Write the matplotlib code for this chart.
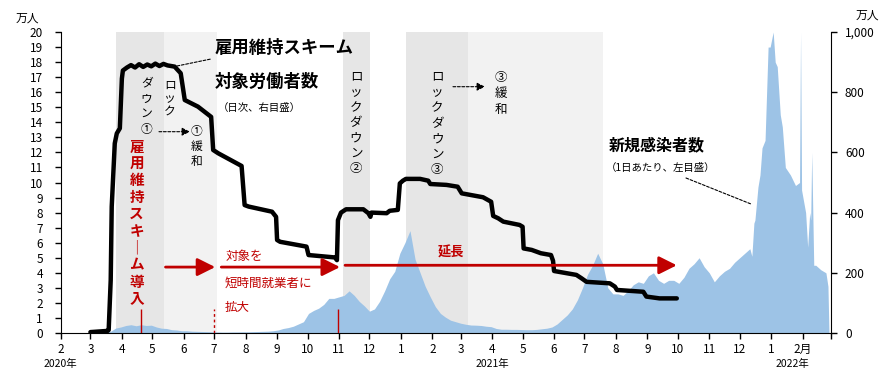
import matplotlib
matplotlib.use("Agg")
import matplotlib.pyplot as plt
from matplotlib.ticker import FuncFormatter, MultipleLocator
import pandas as pd

plt.rcParams['font.family'] = ['Noto Sans CJK JP', 'DejaVu Sans']

W, H = 896, 379
RED = '#c00000'
BLUE = '#9dc3e6'

# new cases per day (万人, left axis), read every 5 days
case_dates = pd.date_range('2020-03-01', periods=146, freq='5D')
case_values = [
    0.0, 0.0, 0.02, 0.05, 0.12, 0.33, 0.4, 0.5, 0.55, 0.48,
    0.55, 0.5, 0.52, 0.4, 0.32, 0.3, 0.22, 0.2, 0.15, 0.15,
    0.12, 0.11, 0.1, 0.09, 0.08, 0.07, 0.06, 0.06, 0.07, 0.07,
    0.08, 0.08, 0.09, 0.1, 0.11, 0.12, 0.15, 0.2, 0.3, 0.36,
    0.45, 0.6, 0.75, 1.3, 1.5, 1.65, 1.9, 2.3, 2.3, 2.4,
    2.5, 2.8, 2.5, 2.1, 1.8, 1.45, 1.6, 2.1, 2.8, 3.6,
    4.1, 5.3, 6.0, 6.8, 4.9, 4.0, 3.1, 2.4, 1.75, 1.3,
    1.05, 0.85, 0.75, 0.65, 0.58, 0.53, 0.52, 0.5, 0.45, 0.42,
    0.3, 0.25, 0.25, 0.24, 0.24, 0.23, 0.22, 0.22, 0.24, 0.28,
    0.32, 0.4, 0.6, 0.9, 1.2, 1.6, 2.2, 3.0, 3.9, 4.5,
    5.3, 4.6, 3.0, 2.6, 2.6, 2.5, 2.8, 3.2, 3.4, 3.3,
    3.8, 4.0, 3.5, 3.3, 3.5, 3.5, 3.3, 3.7, 4.3, 4.6,
    5.0, 4.4, 4.0, 3.4, 3.8, 4.1, 4.3, 4.7, 5.0, 5.3,
    5.6, 7.5, 10.5, 12.8, 19.0, 18.0, 14.5, 11.0, 10.5, 9.8,
    20.0, 8.0, 7.5, 4.5, 4.2, 4.0,
]
# extra readings around the omicron wave
spike_dates = pd.to_datetime([
    '2021-12-13', '2021-12-15', '2021-12-19', '2021-12-23', '2021-12-29',
    '2022-01-03', '2022-01-07', '2022-01-12', '2022-01-29', '2022-01-31',
    '2022-02-06', '2022-02-08', '2022-02-10', '2022-02-12', '2022-02-26',
    '2022-02-27'])
spike_values = [5.1, 7.3, 9.7, 12.3, 19.0,
                20.0, 17.7, 13.7, 10.0, 9.5,
                5.7, 8.0, 12.0, 4.5, 3.1,
                0.0]

# furlough scheme workers (万人, right axis)
furlough_dates = pd.to_datetime([
    '2020-03-01', '2020-03-18', '2020-03-19', '2020-03-21', '2020-03-22',
    '2020-03-25', '2020-03-27', '2020-03-30', '2020-04-01', '2020-04-02',
    '2020-04-06', '2020-04-10', '2020-04-14', '2020-04-18', '2020-04-22',
    '2020-04-26', '2020-04-30', '2020-05-04', '2020-05-08', '2020-05-12',
    '2020-05-16', '2020-05-23', '2020-05-29', '2020-06-02', '2020-06-15',
    '2020-06-28', '2020-06-30', '2020-07-05', '2020-07-28', '2020-07-31',
    '2020-08-04', '2020-08-27', '2020-08-31', '2020-09-01', '2020-09-04',
    '2020-09-30', '2020-10-02', '2020-10-28', '2020-10-30', '2020-10-31',
    '2020-11-03', '2020-11-08', '2020-11-25', '2020-11-30', '2020-12-02',
    '2020-12-03', '2020-12-18', '2020-12-21', '2020-12-29', '2020-12-31',
    '2021-01-03', '2021-01-06', '2021-01-20', '2021-01-28', '2021-01-30',
    '2021-02-15', '2021-02-26', '2021-03-02', '2021-03-23', '2021-03-31',
    '2021-04-02', '2021-04-07', '2021-04-12', '2021-04-28', '2021-05-01',
    '2021-05-02', '2021-05-10', '2021-05-19', '2021-05-29', '2021-05-31',
    '2021-06-01', '2021-06-23', '2021-06-28', '2021-07-03', '2021-07-26',
    '2021-07-31', '2021-08-02', '2021-08-28', '2021-08-31', '2021-09-13',
    '2021-09-30'])
furlough_values = [
    3, 7, 10, 176, 420, 630, 663, 680, 845, 872,
    882, 890, 882, 893, 884, 892, 886, 895, 887, 894,
    889, 885, 863, 774, 752, 718, 608, 597, 555, 425,
    420, 403, 386, 309, 303, 287, 259, 251, 242, 375,
    400, 411, 411, 398, 386, 400, 398, 406, 409, 497,
    506, 512, 512, 506, 495, 492, 486, 464, 451, 436,
    389, 381, 370, 359, 353, 281, 276, 265, 259, 240,
    206, 193, 182, 170, 165, 154, 143, 137, 121, 115,
    115]

# lockdown (dark) and easing (light) periods
dark_periods = [('2020-03-26', '2020-05-13'), ('2020-11-05', '2020-12-02'),
                ('2021-01-06', '2021-03-08')]
light_periods = [('2020-05-13', '2020-07-04'), ('2021-03-08', '2021-07-19')]

month_ticks = pd.date_range('2020-02-01', '2022-03-01', freq='MS')
month_labels = [str(m) for m in range(2, 13)] + [str(m) for m in range(1, 13)] + ['1', '2月', '']

cases = pd.Series(case_values + spike_values,
                  index=list(case_dates) + list(spike_dates)).sort_index()

fig = plt.figure(figsize=(W / 100, H / 100), dpi=100)
ax = fig.add_axes([61 / W, 1 - 333 / H, (831 - 61) / W, (333 - 32) / H])
ax2 = ax.twinx()

for a, b in dark_periods:
    ax.axvspan(pd.Timestamp(a), pd.Timestamp(b), color='#e6e6e6', lw=0, zorder=0)
for a, b in light_periods:
    ax.axvspan(pd.Timestamp(a), pd.Timestamp(b), color='#f2f2f2', lw=0, zorder=0)

ax.fill_between(cases.index, 0, cases.values, color=BLUE, lw=0, zorder=1)

# red date markers
ax.vlines(pd.Timestamp('2020-04-20'), 0, 1.6, color=RED, lw=1, zorder=3)
ax.vlines(pd.Timestamp('2020-07-01'), 0, 1.6, color=RED, lw=1, linestyles=(0, (2, 2)), zorder=3)
ax.vlines(pd.Timestamp('2020-10-31'), 0, 1.6, color=RED, lw=1, zorder=3)

ax.set_xlim(pd.Timestamp('2020-02-01'), pd.Timestamp('2022-03-01'))
ax.set_ylim(0, 20)
ax.yaxis.set_major_locator(MultipleLocator(1))
ax.set_xticks(month_ticks)
ax.set_xticklabels(month_labels)
ax.tick_params(axis='y', direction='out', length=4, width=1, labelsize=8.5, pad=9)
ax.tick_params(axis='x', direction='out', length=4, width=1, labelsize=8.5, pad=3)

ax2.plot(furlough_dates, furlough_values, color='black', lw=3.2,
         solid_joinstyle='round', solid_capstyle='round', zorder=5)
ax2.set_ylim(0, 1000)
ax2.yaxis.set_major_locator(MultipleLocator(200))
ax2.yaxis.set_major_formatter(FuncFormatter(lambda v, p: f'{v:,.0f}'))
ax2.tick_params(axis='y', direction='out', length=4, width=1, labelsize=8.5, pad=6)

for s in ['top', 'right']:
    ax.spines[s].set_visible(False)
for s in ['top', 'left', 'bottom']:
    ax2.spines[s].set_visible(False)

# red arrows (right-axis units)
def red_arrow(x0, x1, y):
    ax2.annotate('', xy=(pd.Timestamp(x1), y), xytext=(pd.Timestamp(x0), y),
                 arrowprops=dict(arrowstyle='-|>,head_length=0.9,head_width=0.45',
                                 color=RED, lw=2, shrinkA=0, shrinkB=0,
                                 mutation_scale=12), zorder=6)

red_arrow('2020-05-14', '2020-07-02', 219)
red_arrow('2020-07-08', '2020-11-02', 219)
red_arrow('2020-11-07', '2021-09-30', 225)

def ftext(x, y, s, **kw):
    fig.text(x / W, 1 - y / H, s, **kw)

def vtext(x, ys, chars, **kw):
    for y, c in zip(ys, chars):
        ftext(x, y, c, ha='center', va='center', **kw)

def fline(x0, y0, x1, y1, head=False):
    style = '-|>,head_length=0.6,head_width=0.3' if head else '-'
    fig.add_artist(matplotlib.patches.FancyArrowPatch(
        (x0 / W, 1 - y0 / H), (x1 / W, 1 - y1 / H), transform=fig.transFigure,
        arrowstyle=style, mutation_scale=8, lw=0.8, color='black',
        linestyle=(0, (2.5, 1.5)), shrinkA=0, shrinkB=0))

# titles
ftext(215, 48, '雇用維持スキーム', fontsize=12.5, fontweight='bold', va='center')
ftext(215, 82, '対象労働者数', fontsize=12.5, fontweight='bold', va='center')
ftext(218, 108, '（日次、右目盛）', fontsize=7.5, va='center')
fline(177, 66, 211, 59)

ftext(609, 145, '新規感染者数', fontsize=11.5, fontweight='bold', va='center')
ftext(606, 168, '（1日あたり、左目盛）', fontsize=7.5, va='center')
fline(686, 178, 751, 204)

# lockdown labels
vtext(170, [85, 99, 112], 'ロック', fontsize=8.5)
vtext(146.7, [83, 99, 113, 130], 'ダウン①', fontsize=8.5)
fline(159, 131.7, 190, 131.7, head=True)
vtext(196.7, [131.7, 146.7, 161], '①緩和', fontsize=8.5)

vtext(356, [77 + 15.2 * i for i in range(7)], 'ロックダウン②', fontsize=9)
vtext(437.3, [77 + 15.5 * i for i in range(7)], 'ロックダウン③', fontsize=9)
fline(453, 86.7, 485, 86.7, head=True)
vtext(501, [77.3, 93.3, 109.3], '③緩和', fontsize=9)

# red annotations
vtext(136.7, [146.7 + 16.85 * i for i in range(10)], '雇用維持スキ｜ム導入',
      fontsize=10.5, fontweight='bold', color=RED)
ftext(226, 256, '対象を', fontsize=9, color=RED, va='center')
ftext(225, 283, '短時間就業者に', fontsize=9, color=RED, va='center')
ftext(225, 307, '拡大', fontsize=9, color=RED, va='center')
ftext(451, 253, '延長', fontsize=9.5, fontweight='bold', color=RED, ha='center', va='center')

# units and years
ftext(27, 18, '万人', fontsize=8.5, ha='center', va='center')
ftext(867, 15, '万人', fontsize=8.5, ha='center', va='center')
ftext(60, 364, '2020年', fontsize=7.5, ha='center', va='center')
ftext(492, 364, '2021年', fontsize=7.5, ha='center', va='center')
ftext(792, 364, '2022年', fontsize=7.5, ha='center', va='center')

fig.savefig('out.png', dpi=100)
